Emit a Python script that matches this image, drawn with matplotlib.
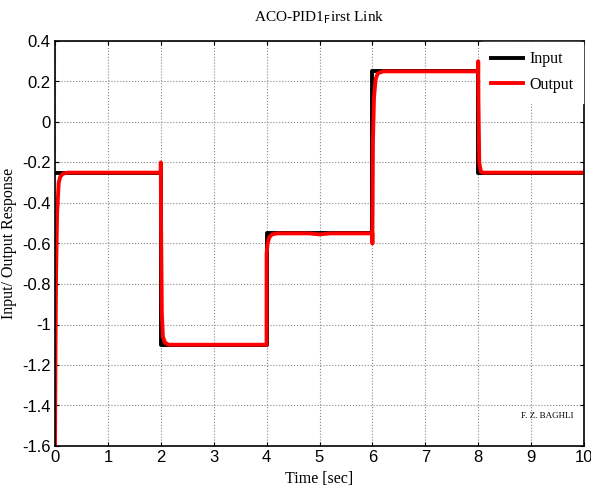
import matplotlib.pyplot as plt

# Reference input (step) signal
t_in = [0, 2, 2, 4, 4, 6, 6, 8, 8, 10]
y_in = [-0.25, -0.25, -1.1, -1.1, -0.55, -0.55, 0.25, 0.25, -0.25, -0.25]

# Closed loop output
t_out = [0.0, 0.01, 0.02, 0.04, 0.07, 0.1, 0.15, 0.25, 1.999,
         2.0, 2.005, 2.02, 2.04, 2.08, 2.15, 3.999,
         4.0, 4.02, 4.05, 4.1, 4.2, 4.8, 5.0, 5.2, 5.999,
         6.0, 6.01, 6.03, 6.06, 6.1, 6.2, 7.999,
         8.0, 8.005, 8.02, 8.05, 8.1, 10.0]
y_out = [-1.6, -1.1, -0.75, -0.45, -0.3, -0.27, -0.255, -0.25, -0.25,
         -0.2, -0.5, -0.95, -1.06, -1.09, -1.1, -1.1,
         -0.65, -0.6, -0.57, -0.555, -0.55, -0.55, -0.555, -0.55, -0.55,
         -0.6, -0.1, 0.12, 0.21, 0.24, 0.25, 0.25,
         0.3, 0.1, -0.2, -0.245, -0.25, -0.25]

x_ticks = list(range(0, 11))
y_ticks = [0.4, 0.2, 0, -0.2, -0.4, -0.6, -0.8, -1, -1.2, -1.4, -1.6]
y_labels = ['0.4', '0.2', '0', '-0.2', '-0.4', '-0.6', '-0.8', '-1', '-1.2', '-1.4', '-1.6']

fig = plt.figure(figsize=(5.91, 4.90), dpi=100)
ax = fig.add_axes([55 / 591, 44 / 490, 529 / 591, 405 / 490])

ax.plot(t_in, y_in, color='black', lw=2.8, label='Input')
ax.plot(t_out, y_out, color='red', lw=2.8, label='Output')

ax.set_xlim(0, 10)
ax.set_ylim(-1.6, 0.4)
ax.set_xticks(x_ticks)
ax.set_yticks(y_ticks)
ax.set_yticklabels(y_labels)
ax.grid(True, color='#888888', linestyle=':', linewidth=0.8)
ax.tick_params(direction='in', length=3, labelsize=12, top=True, right=True, pad=3)
for lab in ax.get_xticklabels() + ax.get_yticklabels():
    lab.set_family('Liberation Sans')
for s in ax.spines.values():
    s.set_linewidth(1.2)

serif = 'Liberation Serif'
ax.set_title('ACO-PID1$_{\\mathrm{F}}$irst Link', fontsize=11, family=serif, pad=14)
ax.set_xlabel('Time [sec]', fontsize=11.5, family=serif, labelpad=4)
ax.set_ylabel('Input/ Output Response', fontsize=11.5, family=serif, labelpad=4)

ax.text(9.3, -1.45, 'F. Z. BAGHLI', fontsize=6.5, family=serif, ha='center', va='center')

leg = ax.legend(loc='upper right', prop={'family': serif, 'size': 11.5}, frameon=True,
                fancybox=False, framealpha=1, edgecolor='white', borderaxespad=0.05,
                borderpad=0.6, handlelength=2.0, handletextpad=0.4, labelspacing=0.6)

fig.savefig('out.png', dpi=100)
